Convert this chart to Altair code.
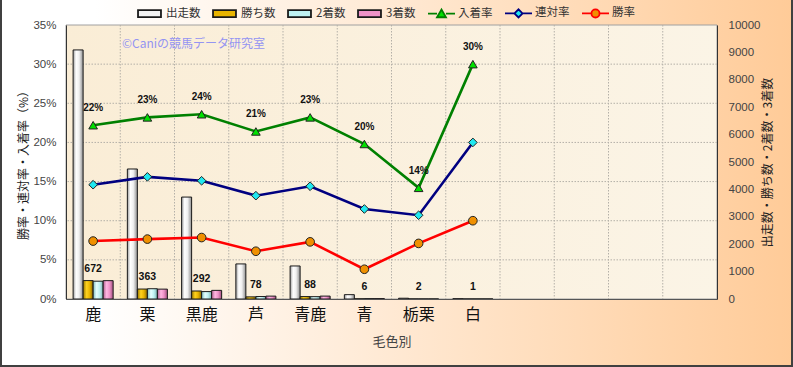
import altair as alt
import pandas as pd

# ---------------- data ----------------
categories = ["鹿", "栗", "黒鹿", "芦", "青鹿", "青", "栃栗", "白"]
blank_slots = [" ", "  ", "   ", "    "]

starts = [9090, 4745, 3720, 1280, 1205, 158, 28, 10]
wins = [672, 363, 292, 78, 88, 6, 2, 1]
seconds = [650, 375, 270, 90, 85, 12, 1, 1]
thirds = [670, 360, 315, 105, 106, 13, 1, 1]

place_rate = [22.2, 23.2, 23.6, 21.4, 23.2, 19.8, 14.2, 30.0]
quinella_rate = [14.6, 15.6, 15.1, 13.2, 14.4, 11.5, 10.7, 20.0]
win_rate = [7.4, 7.65, 7.85, 6.1, 7.3, 3.8, 7.1, 10.0]

bar_series = ["出走数", "勝ち数", "2着数", "3着数"]
line_series = ["入着率", "連対率", "勝率"]

left_ticks = [0, 0.05, 0.10, 0.15, 0.20, 0.25, 0.30, 0.35]
right_ticks = [0, 1000, 2000, 3000, 4000, 5000, 6000, 7000, 8000, 9000, 10000]
grid_values = [0.05, 0.10, 0.15, 0.20, 0.25, 0.30]

# ---------------- tables ----------------
slots = categories + blank_slots
all_series = bar_series + line_series

bar_values = {"出走数": starts, "勝ち数": wins, "2着数": seconds, "3着数": thirds}
bars_df = pd.DataFrame(
    [{"cat": c, "series": s, "count": bar_values[s][i]}
     for s in bar_series for i, c in enumerate(categories)]
)
line_values = {"入着率": place_rate, "連対率": quinella_rate, "勝率": win_rate}
lines_df = pd.DataFrame(
    [{"cat": c, "series": s, "rate": line_values[s][i] / 100.0, "idx": i}
     for s in line_series for i, c in enumerate(categories)]
)
grid_h_df = pd.DataFrame({"v": grid_values})
grid_v_df = pd.DataFrame({"cat": slots[1:]})
one_row = pd.DataFrame({"k": [0]})

W, H = 651, 274
PAD = {"left": 66, "top": 25, "right": 76, "bottom": 68}

# ---------------- styles ----------------
def grad(stops):
    return alt.LinearGradient(
        gradient="linear", x1=0, x2=1, y1=0, y2=0,
        stops=[alt.GradientStop(offset=o, color=c) for o, c in stops],
    )

bg_grad = grad([(0, "#FFFFFF"), (0.12, "#FFFFFF"), (1, "#FFCB98")])
plot_grad = grad([(0, "#FAEDD6"), (1, "#FBF4E6")])
bar_grads = [
    grad([(0, "#9C9C9C"), (0.3, "#FFFFFF"), (0.6, "#EFEFEF"), (1, "#8E8E8E")]),
    grad([(0, "#9A7800"), (0.35, "#FFD21E"), (0.65, "#E8B400"), (1, "#8A6A00")]),
    grad([(0, "#7FBFBF"), (0.35, "#E6FFFF"), (0.65, "#BFF2F2"), (1, "#78B0B0")]),
    grad([(0, "#B0608F"), (0.35, "#FFB6E2"), (0.65, "#EE92C8"), (1, "#A0507F")]),
]

# colour scale: bar entries only feed the legend outline, line entries stroke the lines
color_range = ["#1A1A1A", "#1A1A1A", "#1A1A1A", "#1A1A1A", "#008000", "#000080", "#FF0000"]
marker_colors = ["#00E000", "#20E8F0", "#F09000"]

rect_path = "M-0.85,-0.26H0.85V0.26H-0.85Z"
legend_shape = {
    "出走数": rect_path,
    "勝ち数": rect_path,
    "2着数": rect_path,
    "3着数": rect_path,
    "入着率": "M-1,0H-0.33M0.33,0H1M-0.33,0.27L0,-0.3L0.33,0.27Z",
    "連対率": "M-1,0H-0.3M0.3,0H1M-0.3,0L0,-0.3L0.3,0L0,0.3Z",
    "勝率": "M-1,0H-0.3M0.3,0H1M0.3,0A0.3,0.3,0,1,1,-0.3,0A0.3,0.3,0,1,1,0.3,0Z",
}
legend_fill = dict(zip(all_series, ["#F2F2F2", "#E8B400", "#BFF2F2", "#EE92C8"] + marker_colors))


def ternary(mapping):
    items = list(mapping.items())
    expr = "'" + items[-1][1] + "'"
    for k, v in reversed(items[:-1]):
        expr = "datum.value === '" + k + "' ? '" + v + "' : (" + expr + ")"
    return expr


legend = alt.Legend(
    orient="none", legendX=69, legendY=-26.5, direction="horizontal", title=None,
    symbolSize=729, labelOffset=2, columnPadding=8, padding=0,
    labelFont="Noto Sans CJK JP", labelFontSize=11.5, labelColor="#333333",
    symbolType=alt.ExprRef(expr=ternary(legend_shape)),
    symbolFillColor=alt.ExprRef(expr=ternary(legend_fill)),
    symbolStrokeWidth=1.8, symbolOpacity=1,
)

x_axis = alt.Axis(
    title="毛色別", titleFont="Noto Sans CJK JP", titleFontSize=13, titleColor="#444444",
    titleFontWeight="normal", titlePadding=13,
    labelFont="Noto Sans CJK JP", labelFontSize=16, labelColor="#111111", labelPadding=7,
    labelAngle=0, ticks=False, grid=False, domainColor="#555555", zindex=1,
)
x_scale = alt.Scale(domain=slots, paddingInner=0, paddingOuter=0)
x_enc = alt.X("cat:N", scale=x_scale, axis=x_axis)

y_right = alt.Y(
    "count:Q", scale=alt.Scale(domain=[0, 10000]),
    axis=alt.Axis(
        orient="right", values=right_ticks, format="d", grid=False, ticks=False,
        labelFont="Liberation Sans", labelFontSize=11.5, labelColor="#444444", labelPadding=11,
        domainColor="#333333", zindex=1,
        title="出走数・勝ち数・2着数・3着数", titleAngle=270, titleBaseline="top",
        titleFont="Noto Sans CJK JP",
        titleFontSize=12, titleColor="#222222", titleFontWeight="normal", titlePadding=3,
    ),
)
y_left = alt.Y(
    "rate:Q", scale=alt.Scale(domain=[0, 0.35]),
    axis=alt.Axis(
        orient="left", values=left_ticks, format=".0%", grid=False, ticks=False,
        labelFont="Liberation Sans", labelFontSize=11.5, labelColor="#444444", labelPadding=10,
        domainColor="#333333", zindex=1,
        title="勝率・連対率・入着率（%）", titleFont="Noto Sans CJK JP",
        titleFontSize=12, titleColor="#1A1A1A", titleFontWeight="normal", titlePadding=2,
    ),
)

# ---------------- layers ----------------
bg = alt.Chart(one_row).mark_rect(fill=bg_grad, stroke="#404040", strokeWidth=4).encode(
    x=alt.value(-PAD["left"]), x2=alt.value(W + PAD["right"]),
    y=alt.value(-PAD["top"] - 3), y2=alt.value(H + PAD["bottom"]),
)
plot_bg = alt.Chart(one_row).mark_rect(fill=plot_grad, stroke="#A0A0A0", strokeWidth=1).encode(
    x=alt.value(0), x2=alt.value(W), y=alt.value(0), y2=alt.value(H),
)
hgrid = alt.Chart(grid_h_df).mark_rule(color="#B4B0A8", strokeDash=[1.5, 1.5], strokeWidth=1).encode(
    y=alt.Y("v:Q", scale=alt.Scale(domain=[0, 0.35]), axis=None),
)
vgrid = alt.Chart(grid_v_df).mark_rule(color="#B4B0A8", strokeDash=[1.5, 1.5], strokeWidth=1).encode(
    x=alt.X("cat:N", scale=x_scale, axis=x_axis, bandPosition=0),
)

x_off = alt.XOffset("series:N", scale=alt.Scale(domain=bar_series, paddingInner=0, paddingOuter=0.71))
bar_layers = []
for s, g in zip(bar_series, bar_grads):
    bar_layers.append(
        alt.Chart(bars_df).transform_filter(alt.datum.series == s)
        .mark_bar(fill=g, stroke="#1A1A1A", strokeWidth=1)
        .encode(x=x_enc, xOffset=x_off, y=y_right)
    )
win_labels = (
    alt.Chart(bars_df).transform_filter(alt.datum.series == "勝ち数")
    .mark_text(dy=-12, font="Liberation Sans", fontSize=10.5, fontWeight="bold", color="#111111")
    .encode(x=x_enc, y=y_right, text="count:Q")
)
right_group = alt.layer(*bar_layers, win_labels)

lines = alt.Chart(lines_df).mark_line(strokeWidth=2.6).encode(
    x=x_enc, y=y_left,
    color=alt.Color("series:N", scale=alt.Scale(domain=all_series, range=color_range), legend=legend),
    order="idx:Q",
)
points = alt.Chart(lines_df).mark_point(filled=True, stroke="#222222", strokeWidth=1, opacity=1, size=75).encode(
    x=x_enc, y=y_left,
    fill=alt.Fill("series:N", scale=alt.Scale(domain=line_series, range=marker_colors), legend=None),
    shape=alt.Shape("series:N", scale=alt.Scale(domain=line_series, range=["triangle-up", "diamond", "circle"]), legend=None),
)
pct_labels = (
    alt.Chart(lines_df).transform_filter(alt.datum.series == "入着率")
    .mark_text(dy=-17, font="Liberation Sans", fontSize=10, fontWeight="bold", color="#111111")
    .encode(x=x_enc, y=y_left, text=alt.Text("rate:Q", format=".0%"))
)
left_group = alt.layer(lines, points, pct_labels)

watermark = alt.Chart(one_row).mark_text(
    text="©Caniの競馬データ研究室", align="left", baseline="middle",
    color="#9494F2", font="Noto Sans CJK JP", fontSize=12,
).encode(x=alt.value(56), y=alt.value(19))

chart = (
    alt.layer(bg, plot_bg, hgrid, vgrid, right_group, left_group, watermark)
    .resolve_scale(y="independent")
    .properties(width=W, height=H, autosize=alt.AutoSizeParams(type="none"), padding=PAD)
    .configure_view(stroke=None)
    .configure(font="Noto Sans CJK JP")
)

chart.save("out.html", embed_options={"renderer": "svg", "actions": False})
